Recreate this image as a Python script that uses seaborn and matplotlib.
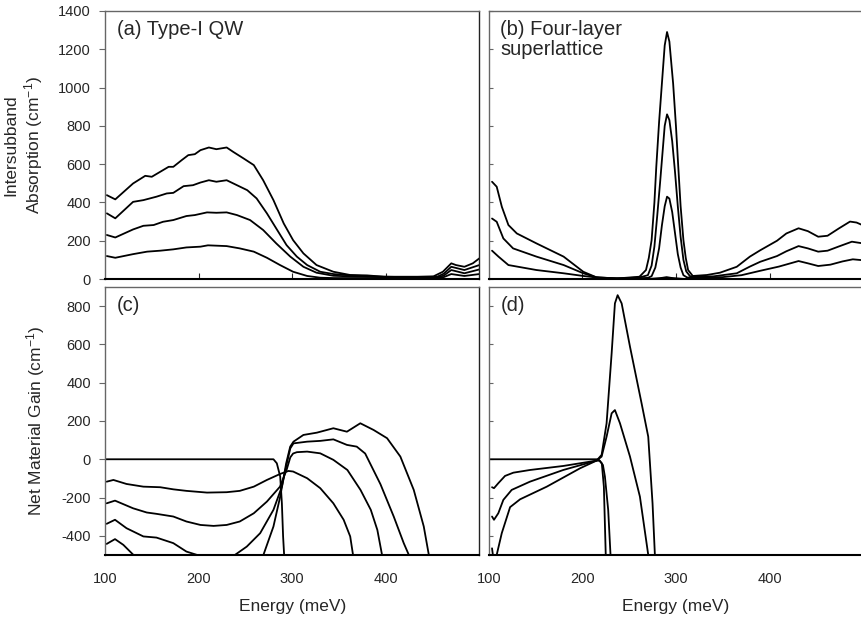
import numpy as np
import pandas as pd
import matplotlib
matplotlib.use("Agg")
import matplotlib.pyplot as plt
import seaborn as sns

# (a) Type-I QW intersubband absorption, four carrier densities
a_e1 = [102, 111, 130, 145, 159, 173, 187, 202, 210, 230, 244, 259, 273, 287, 301, 316, 330, 344, 362, 380,
        400, 420, 440, 455, 462, 470, 484, 500]
a_v1 = [120, 111, 130, 143, 148, 155, 165, 169, 176, 172, 160, 143, 111, 73, 38, 16, 7, 5, 5, 5,
        5, 4, 4, 4, 10, 26, 16, 26]
a_e2 = [102, 111, 130, 141, 152, 162, 173, 187, 196, 209, 219, 230, 241, 255, 269, 283, 298, 312, 326, 344,
        362, 380, 400, 420, 440, 455, 462, 470, 484, 500]
a_v2 = [230, 217, 259, 278, 282, 299, 308, 329, 334, 348, 346, 348, 334, 308, 256, 186, 117, 64, 33, 17,
        14, 12, 10, 8, 8, 8, 18, 47, 30, 50]
a_e3 = [102, 111, 130, 141, 155, 166, 173, 184, 194, 202, 211, 219, 230, 241, 252, 262, 273, 284, 294, 305,
        316, 330, 344, 362, 380, 400, 420, 440, 455, 462, 470, 484, 500]
a_v3 = [343, 317, 403, 412, 430, 447, 450, 485, 490, 504, 516, 508, 516, 490, 464, 421, 343, 256, 177, 117,
        73, 38, 26, 19, 15, 12, 10, 10, 12, 28, 64, 47, 73]
a_e4 = [102, 111, 130, 143, 150, 159, 168, 173, 182, 189, 196, 202, 211, 219, 230, 237, 248, 259, 269, 280,
        291, 301, 312, 326, 344, 362, 380, 398, 416, 434, 451, 461, 470, 475, 484, 493, 500]
a_v4 = [438, 416, 499, 539, 534, 560, 586, 586, 621, 647, 652, 673, 687, 678, 687, 664, 630, 595, 516, 412,
        290, 203, 134, 73, 38, 21, 19, 12, 12, 12, 14, 38, 82, 73, 64, 82, 108]

# (b) four-layer superlattice absorption
b_e0 = [100, 270, 285, 290, 295, 310, 500]
b_v0 = [0, 0, 6, 10, 6, 0, 0]
b_e1 = [103.5, 110.4, 121, 151, 180, 201, 220, 250, 270, 274, 278, 282, 285, 288, 290.5, 293, 296, 299, 302, 305,
        308, 312, 320, 350, 370, 390, 410, 431, 441, 452, 465, 478, 489, 500]
b_v1 = [148, 117, 73, 47, 30, 16, 5, 3, 6, 15, 60, 160, 280, 380, 430, 420, 350, 240, 130, 60,
        20, 8, 8, 10, 20, 43, 65, 94, 82, 68, 75, 92, 103, 98]
b_e2 = [103.5, 108.5, 115.6, 126, 151, 180, 201, 215, 237, 261, 270, 274, 277, 280, 283, 286, 288, 290.5, 293, 296,
        299, 302, 305, 308, 311, 315, 320, 340, 365, 379, 390, 408, 418, 431, 441, 452, 462, 474, 488, 500]
b_v2 = [316, 299, 212, 160, 117, 73, 30, 9, 3, 8, 20, 70, 170, 330, 500, 680, 800, 860, 830, 720,
        560, 380, 220, 100, 40, 15, 12, 14, 30, 65, 90, 120, 145, 172, 160, 143, 148, 170, 195, 186]
b_e3 = [103.5, 108.5, 114, 121, 130, 151, 180, 201, 215, 237, 261, 268, 271, 274, 277, 279, 282, 285, 288, 290.5,
        293, 295, 297, 300, 302.5, 305, 308, 310.5, 313, 318, 333, 347, 365, 379, 390, 408, 418, 431, 441, 452,
        462, 474, 486, 493, 500]
b_v3 = [508, 482, 377, 282, 238, 186, 117, 38, 9, 3, 12, 47, 110, 203, 400, 586, 820, 1021, 1220, 1290,
        1240, 1130, 1021, 800, 586, 380, 203, 110, 47, 16, 21, 33, 64, 117, 150, 200, 238, 265, 250, 221,
        226, 264, 300, 295, 280]

# (c) Type-I QW net material gain
c_e0 = [100, 280, 283.6, 287.2, 289, 290.3, 291.4, 292]
c_v0 = [0, 0, -21, -90, -230, -403, -499, -560]
c_e1 = [101.8, 109, 123, 141, 159, 173, 187, 209, 230, 244, 259, 273, 287, 296, 301, 316, 330, 344, 355, 362,
        365, 367]
c_v1 = [-117, -108, -129, -143, -146, -157, -165, -174, -172, -165, -143, -108, -77, -61, -64, -99, -151, -230,
        -316, -403, -499, -560]
c_e2 = [101.8, 110.7, 130, 144.6, 155, 173, 187, 202, 216, 230, 244, 259, 273, 287, 294, 298, 301, 305, 316, 330,
        344, 359, 373, 384, 391, 396, 398]
c_v2 = [-230, -216, -256, -278, -285, -299, -325, -343, -348, -343, -325, -282, -221, -143, -56, 10, 30, 37, 40, 31,
        -3, -56, -160, -264, -369, -499, -560]
c_e3 = [101.8, 110.7, 123, 141, 155, 173, 187, 198, 220, 239, 251.5, 265.8, 280, 289, 294.3, 298, 301.4, 316, 330,
        344, 358.5, 369, 378, 394.3, 408.5, 419.2, 424.6, 427]
c_v3 = [-337, -316, -360, -403, -409, -438, -482, -499, -560, -499, -456, -386, -264, -143, -21, 57, 83, 92, 96,
        104, 75, 66, 30, -130, -299, -438, -499, -560]
c_e4 = [101.8, 110.7, 119.6, 130.3, 160, 200, 240, 269.3, 280, 287.2, 293.6, 297.9, 301.4, 312, 326.4, 344, 358.5,
        372.8, 387, 401.4, 415.6, 429.9, 440.6, 446, 448]
c_v4 = [-442, -417, -447, -499, -600, -650, -620, -499, -351, -195, -21, 66, 92, 127, 139, 162, 144,
        188, 153, 110, 14, -160, -351, -499, -560]

# (d) four-layer superlattice net gain
d_e0 = [100, 217.2, 220.8, 223, 225, 226]
d_v0 = [0, 0, -21, -143, -499, -560]
d_e1 = [103.5, 105.6, 110.2, 117.4, 126.3, 144, 179.6, 215.2, 218.5, 222, 224.1, 227.6, 230.1, 231]
d_v1 = [-146, -151, -125, -87, -70, -56, -35, -7, -8, -30, -90, -264, -499, -560]
d_e2 = [103.5, 105.6, 110.2, 115.6, 124.5, 144, 179.6, 215.2, 220.6, 225.9, 231.3, 234.8, 240.2, 250.9, 261.5,
        270.4, 272]
d_v2 = [-299, -316, -282, -212, -160, -117, -56, -7, 14, 118, 240, 257, 188, 14, -195, -499, -560]
d_e3 = [103.5, 105.5, 108.5, 113.9, 122.8, 133.5, 162, 197.6, 215.2, 220.6, 225.9, 231.3, 234.8, 237.7, 242,
        250.9, 263.3, 270.4, 275, 277.5, 279]
d_v3 = [-465, -540, -499, -386, -250, -209, -143, -47, -7, 23, 188, 553, 814, 857, 814, 588, 292, 118, -230,
        -499, -560]

panel_labels = ["(a) Type-I QW", "(b) Four-layer\nsuperlattice", "(c)", "(d)"]

sns.set_style("ticks")
plt.rcParams["font.family"] = ["Liberation Sans", "DejaVu Sans"]
plt.rcParams["mathtext.default"] = "regular"
plt.rcParams["axes.unicode_minus"] = False

fig = plt.figure(figsize=(8.62, 6.22), dpi=100)
w = 0.4343
h = 0.431
ax_a = fig.add_axes([0.1218, 0.5514, w, h])
ax_b = fig.add_axes([0.5670, 0.5514, w, h])
ax_c = fig.add_axes([0.1218, 0.1077, w, h])
ax_d = fig.add_axes([0.5670, 0.1077, w, h])

curves = {
    ax_a: [(a_e1, a_v1), (a_e2, a_v2), (a_e3, a_v3), (a_e4, a_v4)],
    ax_b: [(b_e0, b_v0), (b_e1, b_v1), (b_e2, b_v2), (b_e3, b_v3)],
    ax_c: [(c_e0, c_v0), (c_e1, c_v1), (c_e2, c_v2), (c_e3, c_v3), (c_e4, c_v4)],
    ax_d: [(d_e0, d_v0), (d_e1, d_v1), (d_e2, d_v2), (d_e3, d_v3)],
}

for ax, lines in curves.items():
    for e, v in lines:
        sns.lineplot(x=e, y=v, ax=ax, color="black", linewidth=1.3, estimator=None, sort=False)
    ax.set_xlim(100, 500)
    for side in ["left", "top"]:
        ax.spines[side].set_color("#666666")
        ax.spines[side].set_linewidth(1.0)
    ax.spines["right"].set_color("#222222")
    ax.spines["right"].set_linewidth(1.0)
    ax.spines["bottom"].set_color("black")
    ax.spines["bottom"].set_linewidth(1.5)

for ax in [ax_a, ax_b]:
    ax.set_ylim(0, 1400)
    ax.set_yticks(np.arange(0, 1401, 200))
    ax.set_xticks([200, 300, 400])
    ax.tick_params(axis="x", direction="in", length=4, labelbottom=False)

for ax in [ax_c, ax_d]:
    ax.set_ylim(-500, 900)
    ax.set_yticks(np.arange(-400, 801, 200))
    ax.set_xticks([100, 200, 300, 400])
    ax.tick_params(axis="x", direction="in", length=0, pad=12, labelsize=10.5)
    ax.set_xlabel("Energy (meV)", fontsize=12.5)
    ax.xaxis.set_label_coords(0.5, -0.165)
    ax.xaxis.label.set_va("top")

for ax in [ax_a, ax_c]:
    ax.tick_params(axis="y", direction="out", length=4, width=0.8, color="#666666", pad=6, labelsize=10.5)
for ax in [ax_b, ax_d]:
    ax.tick_params(axis="y", direction="in", length=3, width=0.8, color="#666666", labelleft=False)

ax_a.set_ylabel("Intersubband\nAbsorption (cm$^{-1}$)", fontsize=12.5)
ax_a.yaxis.set_label_coords(-0.16, 0.5)
ax_c.set_ylabel("Net Material Gain (cm$^{-1}$)", fontsize=12.5)
ax_c.yaxis.set_label_coords(-0.155, 0.5)

for ax, lab in zip([ax_a, ax_b, ax_c, ax_d], panel_labels):
    ax.text(0.031, 0.965, lab, transform=ax.transAxes, ha="left", va="top", fontsize=14.5, linespacing=1.05)

fig.savefig("out.png", dpi=100)
